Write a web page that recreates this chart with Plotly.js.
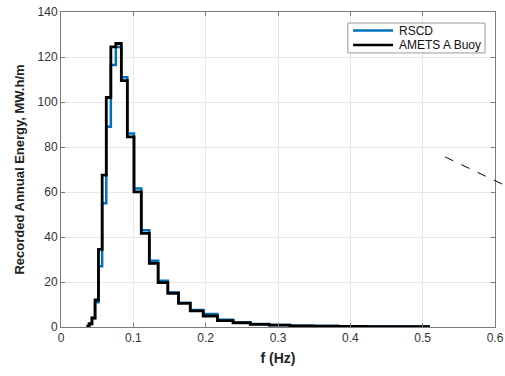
<!DOCTYPE html>
<html>
<head>
<meta charset="utf-8">
<script src="https://cdn.plot.ly/plotly-3.0.1.min.js"></script>
<style>html,body{margin:0;padding:0;background:#fff;}#chart{width:505px;height:376px;}</style>
</head>
<body>
<div id="chart"></div>
<script>
// Frequency bin edges (Hz)
const binEdges = [0.0353, 0.0389, 0.0428, 0.0471, 0.0518, 0.0569, 0.0626, 0.0689, 0.0758, 0.0834,
  0.0917, 0.1009, 0.1110, 0.1221, 0.1343, 0.1477, 0.1625, 0.1787, 0.1966, 0.2163,
  0.2379, 0.2617, 0.2879, 0.3166, 0.3483, 0.3831, 0.4214, 0.4636, 0.5100];
// Recorded annual energy per bin (MW.h/m)
const rscdEnergy = [0.3, 1.2, 4, 11, 27, 55, 89, 116.5, 124.5, 111, 86,
  61.6, 43, 29.5, 20.6, 15.3, 10.8, 7.6, 5.8, 3.2, 2.0, 1.3, 0.9, 0.6, 0.45, 0.35, 0.25, 0.2];
const ametsEnergy = [0.5, 1.5, 4, 12, 34.5, 67.5, 102, 124.5, 126, 109.5, 84.5,
  60.1, 41.6, 28.3, 19.7, 15, 10.5, 7.2, 4.9, 2.8, 1.9, 1.2, 0.8, 0.5, 0.4, 0.3, 0.15, 0.1];
const seriesNames = ['RSCD', 'AMETS A Buoy'];
const seriesColors = ['#0072BD', '#000000'];
const xTicks = [0, 0.1, 0.2, 0.3, 0.4, 0.5, 0.6];
const yTicks = [0, 20, 40, 60, 80, 100, 120, 140];

function stairsY(v) { return v.concat([v[v.length - 1]]); }

const traces = [
  {x: binEdges, y: stairsY(rscdEnergy), name: seriesNames[0], type: 'scatter', mode: 'lines',
   line: {shape: 'hv', color: seriesColors[0], width: 2.5}},
  {x: binEdges, y: stairsY(ametsEnergy), name: seriesNames[1], type: 'scatter', mode: 'lines',
   line: {shape: 'hv', color: seriesColors[1], width: 2.8}}
];

const fontFam = 'Arial, Liberation Sans, sans-serif';
const axisCommon = {
  showline: true, mirror: 'ticks', linecolor: '#7a7a7a', linewidth: 1,
  ticks: 'inside', ticklen: 4, tickcolor: '#7a7a7a',
  showgrid: true, gridcolor: '#e8e8e8', gridwidth: 1, zeroline: false,
  tickfont: {family: fontFam, size: 12, color: '#333'}
};

// compact MATLAB-style legend box (paper coordinates)
const lg = {x0: 0.661, x1: 0.977, y0: 0.870, y1: 0.965, lineX0: 0.673, lineX1: 0.765, textX: 0.774, rows: [0.941, 0.895]};
const legendShapes = [
  {type: 'rect', xref: 'paper', yref: 'paper', x0: lg.x0, x1: lg.x1, y0: lg.y0, y1: lg.y1,
   fillcolor: '#fff', line: {color: '#9a9a9a', width: 1}, layer: 'above'}
];
const legendAnnots = [];
seriesNames.forEach(function (n, i) {
  legendShapes.push({type: 'line', xref: 'paper', yref: 'paper', x0: lg.lineX0, x1: lg.lineX1,
    y0: lg.rows[i], y1: lg.rows[i], line: {color: seriesColors[i], width: 2.5}, layer: 'above'});
  legendAnnots.push({xref: 'paper', yref: 'paper', x: lg.textX, y: lg.rows[i], xanchor: 'left', yanchor: 'middle',
    text: n, showarrow: false, font: {family: fontFam, size: 12, color: '#111'}});
});

const layout = {
  width: 505, height: 376,
  margin: {l: 61, r: 10, t: 12, b: 49},
  paper_bgcolor: '#fff', plot_bgcolor: '#fff',
  showlegend: false,
  xaxis: Object.assign({}, axisCommon, {
    range: [0, 0.6], tickvals: xTicks, ticktext: xTicks.map(String),
    title: {text: '<b>f (Hz)</b>', standoff: 8,
      font: {family: fontFam, size: 14, color: '#222'}}
  }),
  yaxis: Object.assign({}, axisCommon, {
    range: [0, 140], tickvals: yTicks, ticktext: yTicks.map(String),
    title: {text: '<b>Recorded Annual Energy, MW.h/m</b>', standoff: 10,
      font: {family: fontFam, size: 13, color: '#222'}}
  }),
  shapes: [
    {type: 'line', xref: 'paper', yref: 'paper', x0: 0.885, y0: 0.54, x1: 1.045, y1: 0.435,
     line: {color: '#000', width: 1, dash: 'dash'}}
  ].concat(legendShapes),
  annotations: legendAnnots
};

Plotly.newPlot('chart', traces, layout, {displayModeBar: false, staticPlot: true});
</script>
</body>
</html>
